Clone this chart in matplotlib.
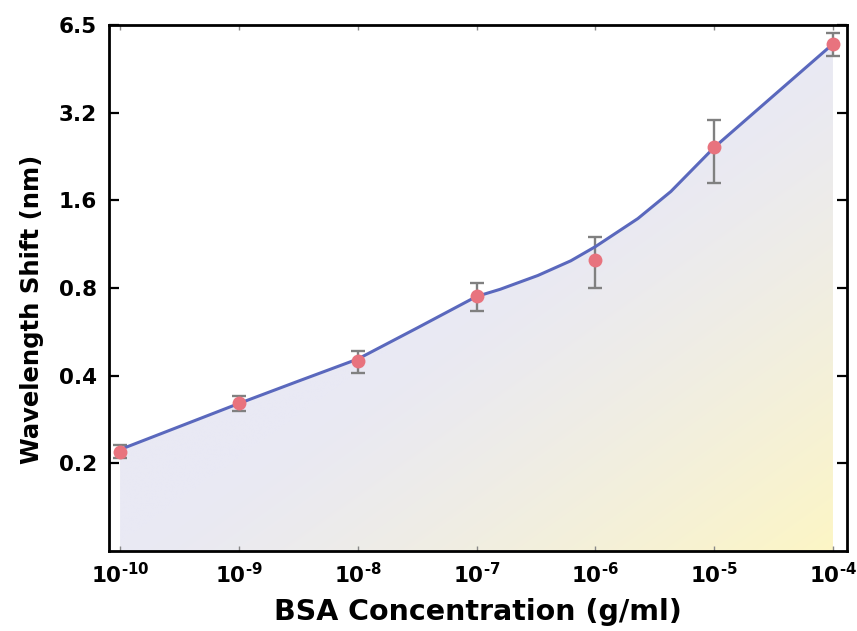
import numpy as np
import matplotlib
matplotlib.use("Agg")
import matplotlib.pyplot as plt
from matplotlib.ticker import FixedLocator, FixedFormatter, NullLocator

# ---- data ----
conc = [1e-10, 1e-9, 1e-8, 1e-7, 1e-6, 1e-5, 1e-4]
shift = [0.2195, 0.321, 0.449, 0.749, 1.00, 2.43, 5.51]
shift_err = [0.011, 0.019, 0.039, 0.082, 0.20, 0.60, 0.50]

# fitted curve (log10 of concentration, shift)
fit_logc = [-10.0, -9.0, -8.5, -8.0, -7.5, -7.0, -6.8, -6.484, -6.206, -6.0,
            -5.642, -5.364, -5.0, -4.5, -4.0]
fit_y = [0.223, 0.321, 0.383, 0.456, 0.583, 0.748, 0.792, 0.883, 0.992, 1.109,
         1.385, 1.716, 2.43, 3.66, 5.51]

xticks = [1e-10, 1e-9, 1e-8, 1e-7, 1e-6, 1e-5, 1e-4]
xticklabels = [r"$10^{\text{-}10}$", r"$10^{\text{-}9}$", r"$10^{\text{-}8}$",
               r"$10^{\text{-}7}$", r"$10^{\text{-}6}$", r"$10^{\text{-}5}$",
               r"$10^{\text{-}4}$"]
yticks = [0.2, 0.4, 0.8, 1.6, 3.2, 6.4]
yticklabels = ["0.2", "0.4", "0.8", "1.6", "3.2", "6.5"]

plt.rcParams['font.family'] = ['DejaVu Sans']
plt.rcParams['font.weight'] = 'bold'
plt.rcParams['mathtext.fontset'] = 'custom'
for key in ['rm', 'bf', 'it', 'sf']:
    plt.rcParams['mathtext.' + key] = 'DejaVu Sans:bold'
plt.rcParams['mathtext.default'] = 'rm'

fit_x = [10.0 ** e for e in fit_logc]

fig = plt.figure(figsize=(8.57, 6.31), dpi=100)
ax = fig.add_axes([0.1272, 0.1268, 0.8611, 0.8336])
ax.set_xscale('log')
ax.set_yscale('log', base=2)
ax.set_xlim(10**-10.093, 10**-3.882)
ax.set_ylim(0.1, 6.4)

# gradient fill beneath the curve
poly = ax.fill_between(fit_x, fit_y, 0.1, color='none', lw=0)
nx, ny = 300, 300
u = np.linspace(0, 1, nx)[None, :]
v = np.linspace(0, 1, ny)[:, None]
t = np.clip((u - v) * 1.0, 0, 1) ** 1.3
c0 = np.array([0xe9, 0xe9, 0xf4]) / 255.0
c1 = np.array([0xfd, 0xf6, 0xc4]) / 255.0
img = c0[None, None, :] * (1 - t[..., None]) + c1[None, None, :] * t[..., None]
im = ax.imshow(img, extent=[0, 1, 0, 1], transform=ax.transAxes, origin='lower',
               aspect='auto', zorder=1, interpolation='bilinear')
path = poly.get_paths()[0]
im.set_clip_path(path, transform=ax.transData)

ax.errorbar(conc, shift, yerr=shift_err, fmt='none', ecolor='#808080',
            elinewidth=1.7, capsize=4.8, capthick=1.7, zorder=3)
ax.plot(fit_x, fit_y, color='#5a68bd', lw=2.2, zorder=4, solid_joinstyle='round')
ax.plot(conc, shift, 'o', color='#e8737e', markersize=10, markeredgewidth=0, zorder=5)

ax.xaxis.set_major_locator(FixedLocator(xticks))
ax.xaxis.set_major_formatter(FixedFormatter(xticklabels))
ax.xaxis.set_minor_locator(NullLocator())
ax.yaxis.set_major_locator(FixedLocator(yticks))
ax.yaxis.set_major_formatter(FixedFormatter(yticklabels))
ax.yaxis.set_minor_locator(NullLocator())

for s in ax.spines.values():
    s.set_linewidth(2.0)
    s.set_color('black')

ax.tick_params(axis='x', which='major', direction='in', length=3.5, width=1.0,
               color='#888888', top=True, labelsize=15.5, pad=8)
ax.tick_params(axis='y', which='major', direction='in', length=7.5, width=1.6,
               color='black', right=True, labelsize=15.5, pad=8.5)

ax.set_xlabel('BSA Concentration (g/ml)', fontsize=20.5, fontweight='bold', labelpad=8)
ax.set_ylabel('Wavelength Shift (nm)', fontsize=17.5, fontweight='bold')
ax.yaxis.set_label_coords(-0.088, 0.46)

fig.savefig('out.png', dpi=100)
